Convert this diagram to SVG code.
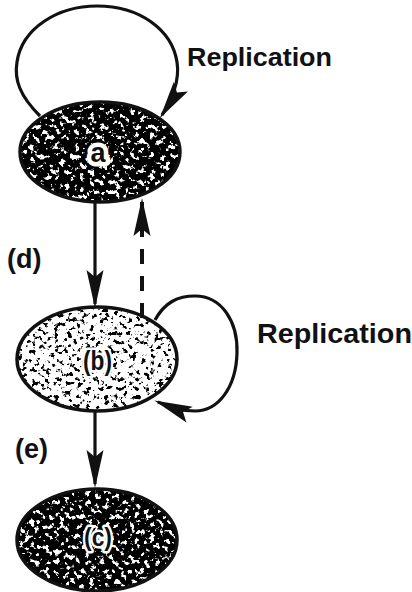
<svg xmlns="http://www.w3.org/2000/svg" width="412" height="592" viewBox="0 0 412 592">
<defs>
<style>
.lbl{font-family:"Liberation Sans",Arial,Helvetica,sans-serif;font-weight:bold;fill:#111}
.inner{font-family:"Liberation Sans",Arial,Helvetica,sans-serif;font-weight:bold;fill:#111;text-anchor:middle;stroke:#fff;stroke-linejoin:round;paint-order:stroke}
.edge{fill:none;stroke:#111;stroke-width:3.2}
.dash{stroke-dasharray:15 12;stroke-width:4}
.outline{fill:none;stroke:#111;stroke-width:3.5}
.body{fill:#000}
</style>
<marker id="ah" markerUnits="userSpaceOnUse" viewBox="-44 -12 50 24" markerWidth="50" markerHeight="24" refX="-4" refY="0" orient="auto">
<path d="M0,0 L-38,-8.5 L-31,0 L-38,8.5 Z" fill="#111"/>
</marker>
<filter id="texDark" x="0" y="0" width="1" height="1" color-interpolation-filters="sRGB">
<feTurbulence type="fractalNoise" baseFrequency="0.2" numOctaves="3" seed="7" result="n"/>
<feColorMatrix in="n" type="matrix" values="1 0 0 0 0 1 0 0 0 0 1 0 0 0 0 0 0 0 0 1" result="g"/>
<feComponentTransfer in="g" result="t">
<feFuncR type="linear" slope="-12" intercept="5.3"/>
<feFuncG type="linear" slope="-12" intercept="5.3"/>
<feFuncB type="linear" slope="-12" intercept="5.3"/>
</feComponentTransfer>
<feComposite in="t" in2="SourceAlpha" operator="in"/>
</filter>
<filter id="texLight" x="0" y="0" width="1" height="1" color-interpolation-filters="sRGB">
<feTurbulence type="fractalNoise" baseFrequency="0.22" numOctaves="3" seed="11" result="n"/>
<feColorMatrix in="n" type="matrix" values="1 0 0 0 0 1 0 0 0 0 1 0 0 0 0 0 0 0 0 1" result="g"/>
<feComponentTransfer in="g" result="t">
<feFuncR type="linear" slope="-12" intercept="7.8"/>
<feFuncG type="linear" slope="-12" intercept="7.8"/>
<feFuncB type="linear" slope="-12" intercept="7.8"/>
</feComponentTransfer>
<feComposite in="t" in2="SourceAlpha" operator="in"/>
</filter>
</defs>
<rect width="412" height="592" fill="#fff"/>

<g id="node-a">
<ellipse class="body" cx="100" cy="152" rx="80" ry="50" filter="url(#texDark)"/>
<ellipse class="outline" cx="100" cy="152" rx="80" ry="50"/>
<text class="inner" x="98" y="162" font-size="27" stroke-width="9">a</text>
</g>
<g id="node-b">
<ellipse class="body" cx="97" cy="359" rx="80" ry="52" filter="url(#texLight)"/>
<ellipse class="outline" cx="97" cy="359" rx="80" ry="52"/>
<text class="inner" x="97.5" y="370" font-size="27" stroke-width="5" textLength="29" lengthAdjust="spacingAndGlyphs">(b)</text>
</g>
<g id="node-c">
<ellipse class="body" cx="97" cy="540" rx="80" ry="51" filter="url(#texDark)"/>
<ellipse class="outline" cx="97" cy="540" rx="80" ry="51"/>
<text class="inner" x="98" y="546" font-size="25" stroke-width="5" textLength="28" lengthAdjust="spacingAndGlyphs">(c)</text>
</g>

<g id="connectors">
<path id="loop-a" class="edge" d="M40,116 C20,96 14,80 17,62 C22,28 58,6 97,6 C140,6 172,30 177,62 C180,80 172,100 162,115" marker-end="url(#ah)"/>
<path id="a-to-b" class="edge" d="M95,202 L95,304" marker-end="url(#ah)"/>
<path id="b-to-a" class="edge dash" d="M142,318 L142,202" marker-end="url(#ah)"/>
<path id="loop-b" class="edge" d="M155,320 C165,302 178,296 195,296 C222,296 238,322 237,353 C236,388 218,411 195,411 C180,411 168,406 158,402" marker-end="url(#ah)"/>
<path id="b-to-c" class="edge" d="M95,411 L95,484" marker-end="url(#ah)"/>
</g>

<g id="labels">
<text class="lbl" x="187" y="66" font-size="26" textLength="145" lengthAdjust="spacingAndGlyphs">Replication</text>
<text class="lbl" x="257" y="343" font-size="28" textLength="155" lengthAdjust="spacingAndGlyphs">Replication</text>
<text class="lbl" x="7" y="268" font-size="27">(d)</text>
<text class="lbl" x="15" y="458" font-size="27">(e)</text>
</g>
</svg>
